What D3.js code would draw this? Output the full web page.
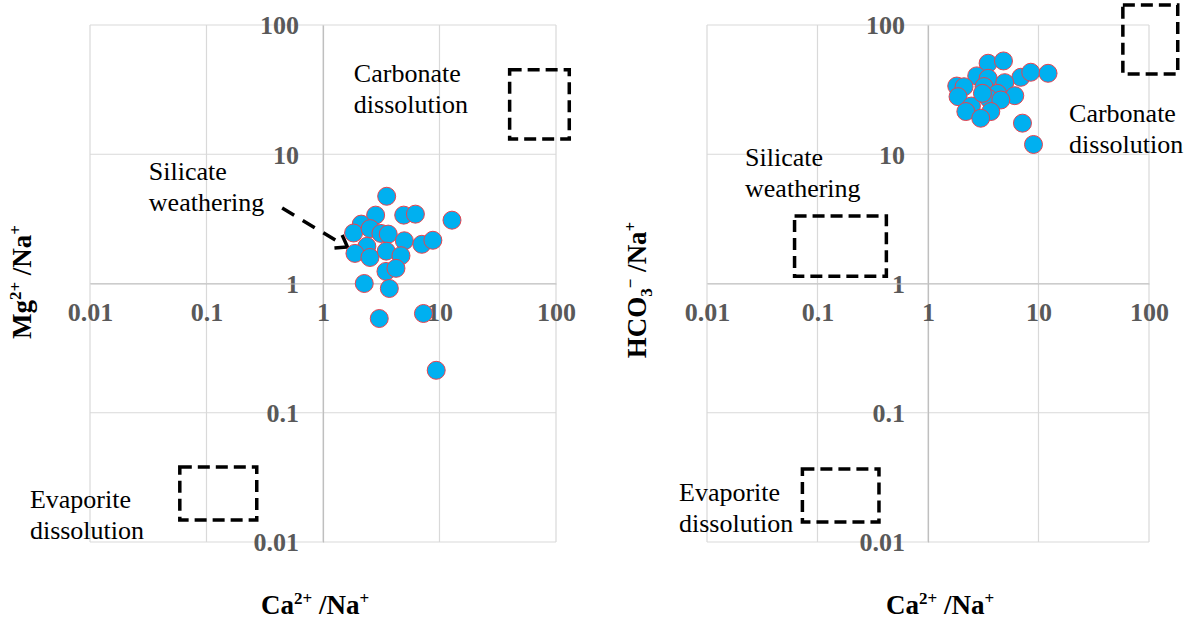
<!DOCTYPE html>
<html>
<head>
<meta charset="utf-8">
<script src="https://cdn.jsdelivr.net/npm/d3@7"></script>
<style>
  html, body { margin: 0; padding: 0; background: #ffffff; }
  svg { display: block; }
  .tick text { font-family: "Liberation Serif", "Times New Roman", serif; font-weight: bold; font-size: 26px; fill: #595959; }
  .note { font-family: "Liberation Serif", "Times New Roman", serif; font-size: 26px; fill: #000; }
  .title { font-family: "Liberation Serif", "Times New Roman", serif; font-weight: bold; font-size: 27px; fill: #000; }
</style>
</head>
<body>
<svg id="chart" width="1197" height="625"></svg>
<script>
// Shared log axis ticks
const tickValues = [0.01, 0.1, 1, 10, 100];
const tickLabels = ["0.01", "0.1", "1", "10", "100"];

// Left panel: Ca2+/Na+ vs Mg2+/Na+
const mgCaNa = [3.52, 4.93, 6.21, 12.8, 2.83, 2.13, 1.83, 2.54, 3.14, 3.63, 4.99, 7.05, 8.77,
                2.38, 1.88, 2.53, 3.49, 4.67, 3.47, 4.23, 2.26, 3.71, 3.04, 7.28, 9.37];
const mgNa   = [4.73, 3.38, 3.44, 3.09, 3.38, 2.88, 2.46, 2.66, 2.44, 2.41, 2.14, 2.01, 2.16,
                1.94, 1.71, 1.59, 1.78, 1.64, 1.24, 1.31, 1.00, 0.915, 0.536, 0.586, 0.213];

// Right panel: Ca2+/Na+ vs HCO3-/Na+
const hcoCaNa = [3.50, 4.82, 2.76, 3.50, 6.92, 8.51, 12.2, 1.82, 2.12, 4.95, 3.21, 4.25,
                 6.10, 1.87, 3.52, 4.56, 2.47, 2.20, 3.70, 3.00, 7.16, 9.01, 3.11];
const hcoNa   = [50.6, 52.7, 40.4, 38.7, 39.4, 43.1, 42.3, 33.7, 33.3, 35.8, 33.4, 29.6,
                 28.4, 27.9, 27.1, 26.3, 23.6, 21.4, 21.4, 19.0, 17.4, 11.9, 29.6];

// End-member fields [xMin, xMax, yMin, yMax]
const mgFields = [
  { name: "Carbonate dissolution", box: [40, 130, 13.1, 45] },
  { name: "Evaporite dissolution", box: [0.059, 0.27, 0.0148, 0.038] }
];
const hcoFields = [
  { name: "Carbonate dissolution", box: [58, 182, 41.8, 143] },
  { name: "Silicate weathering",   box: [0.062, 0.42, 1.14, 3.33] },
  { name: "Evaporite dissolution", box: [0.073, 0.36, 0.0143, 0.0367] }
];

// Field labels: anchor at first-line baseline in data units
const mgNotes = [
  { lines: ["Carbonate", "dissolution"], at: [1.84, 36.5] },
  { lines: ["Silicate", "weathering"],   at: [0.032, 6.3] },
  { lines: ["Evaporite", "dissolution"], at: [0.00305, 0.0183] }
];
const hcoNotes = [
  { lines: ["Carbonate", "dissolution"], at: [18.9, 17.9] },
  { lines: ["Silicate", "weathering"],   at: [0.0221, 8.15] },
  { lines: ["Evaporite", "dissolution"], at: [0.00558, 0.0209] }
];

// Arrow pointing at the silicate end-member in the left panel
const mgArrow = [[0.446, 3.83], [1.62, 1.92]];

const svg = d3.select("#chart");

function panel(cfg) {
  const x = d3.scaleLog().domain([0.01, 100]).range(cfg.xr);
  const y = d3.scaleLog().domain([0.01, 100]).range([542, 25]);
  const g = svg.append("g");

  // gridlines
  g.append("g").selectAll("line.v").data(tickValues).join("line")
    .attr("x1", d => x(d)).attr("x2", d => x(d))
    .attr("y1", y(0.01)).attr("y2", y(100))
    .attr("stroke", "#d9d9d9").attr("stroke-width", 1.2);
  g.append("g").selectAll("line.h").data(tickValues).join("line")
    .attr("y1", d => y(d)).attr("y2", d => y(d))
    .attr("x1", x(0.01)).attr("x2", x(100))
    .attr("stroke", "#d9d9d9").attr("stroke-width", 1.2);

  const fmt = d => tickLabels[tickValues.indexOf(d)];

  // y axis crosses at x = 1
  const ya = g.append("g").attr("transform", `translate(${x(1)},0)`)
    .call(d3.axisLeft(y).tickValues(tickValues).tickFormat(fmt).tickSize(0).tickPadding(cfg.yPad));
  ya.select(".domain").attr("stroke", "#bfbfbf").attr("stroke-width", 1.2);
  ya.selectAll("text").attr("font-family", null).attr("font-size", null).attr("dy", "0.34em");

  // x axis crosses at y = 1
  const xa = g.append("g").attr("transform", `translate(0,${y(1)})`)
    .call(d3.axisBottom(x).tickValues(tickValues).tickFormat(fmt).tickSize(0).tickPadding(19));
  xa.select(".domain").attr("stroke", "#bfbfbf").attr("stroke-width", 1.2);
  xa.selectAll("text").attr("font-family", null).attr("font-size", null);

  // dashed end-member fields
  g.append("g").selectAll("rect").data(cfg.fields).join("rect")
    .attr("x", d => x(d.box[0])).attr("width", d => x(d.box[1]) - x(d.box[0]))
    .attr("y", d => y(d.box[3])).attr("height", d => y(d.box[2]) - y(d.box[3]))
    .attr("fill", "none").attr("stroke", "#000").attr("stroke-width", 3.5)
    .attr("stroke-dasharray", "12,6");

  // labels
  const notes = g.append("g").selectAll("text").data(cfg.notes).join("text")
    .attr("class", "note")
    .attr("x", d => x(d.at[0])).attr("y", d => y(d.at[1]));
  notes.selectAll("tspan").data(d => d.lines.map(l => ({ l, x: x(d.at[0]) }))).join("tspan")
    .attr("x", d => d.x).attr("dy", (d, i) => i ? 31 : 0).text(d => d.l);

  // arrow
  if (cfg.arrow) {
    const [p0, p1] = cfg.arrow.map(p => [x(p[0]), y(p[1])]);
    g.append("line").attr("x1", p0[0]).attr("y1", p0[1]).attr("x2", p1[0] - 4).attr("y2", p1[1] - 2)
      .attr("stroke", "#000").attr("stroke-width", 3.5).attr("stroke-dasharray", "14,10");
    const ang = Math.atan2(p1[1] - p0[1], p1[0] - p0[0]);
    const len = 13, spread = 0.62;
    const head = [
      [p1[0] - len * Math.cos(ang - spread), p1[1] - len * Math.sin(ang - spread)],
      p1,
      [p1[0] - len * Math.cos(ang + spread), p1[1] - len * Math.sin(ang + spread)]
    ];
    g.append("path").attr("d", d3.line()(head)).attr("fill", "none")
      .attr("stroke", "#000").attr("stroke-width", 3.5);
  }

  // samples
  g.append("g").selectAll("circle").data(cfg.xs.map((v, i) => [v, cfg.ys[i]])).join("circle")
    .attr("cx", d => x(d[0])).attr("cy", d => y(d[1])).attr("r", 9)
    .attr("fill", "#00b0f0").attr("stroke", "#e8434f").attr("stroke-width", 1);

  // axis titles
  const xt = g.append("text").attr("class", "title").attr("text-anchor", "middle")
    .attr("x", cfg.xTitleX).attr("y", 614);
  xt.append("tspan").text("Ca");
  xt.append("tspan").attr("font-size", "17px").attr("baseline-shift", "10px").text("2+");
  xt.append("tspan").text(" /Na");
  xt.append("tspan").attr("font-size", "17px").attr("baseline-shift", "10px").text("+");

  const yt = g.append("text").attr("class", "title").attr("text-anchor", "middle")
    .attr("transform", `translate(${cfg.yTitleX},${cfg.yTitleY}) rotate(-90)`);
  cfg.yTitle(yt);
}

panel({
  xr: [90, 556], yPad: 24, xs: mgCaNa, ys: mgNa, fields: mgFields, notes: mgNotes, arrow: mgArrow,
  xTitleX: 315, yTitleX: 31, yTitleY: 282,
  yTitle: t => {
    t.append("tspan").text("Mg");
    t.append("tspan").attr("font-size", "17px").attr("baseline-shift", "10px").text("2+");
    t.append("tspan").text(" /Na");
    t.append("tspan").attr("font-size", "17px").attr("baseline-shift", "10px").text("+");
  }
});

panel({
  xr: [707, 1149], yPad: 23, xs: hcoCaNa, ys: hcoNa, fields: hcoFields, notes: hcoNotes, arrow: null,
  xTitleX: 940, yTitleX: 646, yTitleY: 290,
  yTitle: t => {
    t.append("tspan").text("HCO");
    t.append("tspan").attr("font-size", "17px").attr("baseline-shift", "-6px").text("3");
    t.append("tspan").attr("font-size", "17px").attr("baseline-shift", "10px").text("\u2212");
    t.append("tspan").text(" /Na");
    t.append("tspan").attr("font-size", "17px").attr("baseline-shift", "10px").text("+");
  }
});
</script>
</body>
</html>
